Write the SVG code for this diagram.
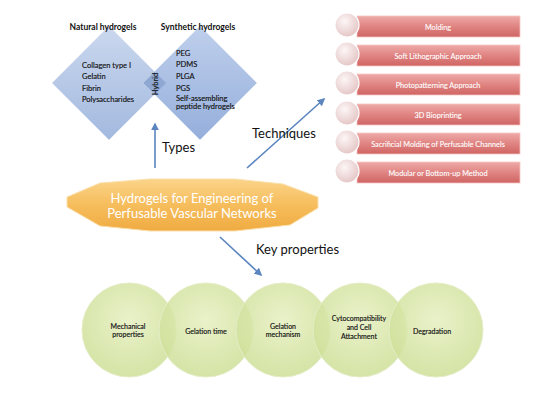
<svg xmlns="http://www.w3.org/2000/svg" width="550" height="413" viewBox="0 0 550 413">
<defs>
<linearGradient id="gBlueL" x1="0" y1="0" x2="0" y2="1"><stop offset="0" stop-color="#cbd8ee"/><stop offset="1" stop-color="#a3b9df"/></linearGradient>
<linearGradient id="gBlueR" x1="0" y1="0" x2="0" y2="1"><stop offset="0" stop-color="#bccdeb"/><stop offset="1" stop-color="#8faad9"/></linearGradient>
<linearGradient id="gOrange" x1="0" y1="0" x2="0" y2="1"><stop offset="0" stop-color="#fbd48a"/><stop offset="0.5" stop-color="#f6bd5c"/><stop offset="1" stop-color="#f0ab42"/></linearGradient>
<linearGradient id="gRed" x1="0" y1="0" x2="0" y2="1"><stop offset="0" stop-color="#eeaaa8"/><stop offset="0.5" stop-color="#e08482"/><stop offset="1" stop-color="#cf6563"/></linearGradient>
<radialGradient id="gPink" cx="0.4" cy="0.35" r="0.7"><stop offset="0" stop-color="#fdf6f6"/><stop offset="1" stop-color="#e3c3c3"/></radialGradient>
<radialGradient id="gGreen" cx="0.5" cy="0.4" r="0.6"><stop offset="0" stop-color="#e6efc0"/><stop offset="1" stop-color="#cddf96"/></radialGradient>
<marker id="arr" viewBox="0 0 10 10" refX="8" refY="5" markerWidth="5" markerHeight="5" orient="auto-start-reverse"><path d="M0,0 L10,5 L0,10 z" fill="#5a85bf"/></marker>
</defs>
<style>
.t{font-family:Lato,"Liberation Sans",sans-serif;}
.conn{stroke:#5a85bf;stroke-width:1.6;fill:none;marker-end:url(#arr);}
.lbl{font-size:13px;fill:#111;}
.list{font-size:7.5px;fill:#111;stroke:#111;stroke-width:0.15;}
.hdr{font-size:8.5px;font-weight:bold;fill:#111;}
.bar{fill:url(#gRed);stroke:#f4c6c4;stroke-width:0.8;}
.knob{fill:url(#gPink);stroke:#ffffff;stroke-width:1.2;}
.btxt{font-size:7.3px;fill:#fff;text-anchor:middle;stroke:#fff;stroke-width:0.1;}
.circ{fill:url(#gGreen);fill-opacity:0.85;stroke:#e4edc6;stroke-width:1;}
.ctxt{font-size:7px;fill:#111;text-anchor:middle;stroke:#111;stroke-width:0.15;}
</style>
<rect width="550" height="413" fill="#ffffff"/>

<g id="types">
<polygon points="109,26 166,83 109,140 52,83" fill="url(#gBlueL)" stroke="#dfe7f5" stroke-width="1"/>
<polygon points="200,26 257,83 200,140 143,83" fill="url(#gBlueR)" stroke="#dfe7f5" stroke-width="1" fill-opacity="0.95"/>
<polygon points="154.5,71.5 166,83 154.5,94.5 143,83" fill="#8ea7d3"/>
<text class="t hdr" x="103" y="30" text-anchor="middle">Natural hydrogels</text>
<text class="t hdr" x="198" y="30" text-anchor="middle">Synthetic hydrogels</text>
<text class="t list" x="82" y="68">Collagen type I</text>
<text class="t list" x="82" y="79">Gelatin</text>
<text class="t list" x="82" y="91">Fibrin</text>
<text class="t list" x="82" y="102">Polysaccharides</text>
<text class="t list" x="176" y="56">PEG</text>
<text class="t list" x="176" y="67">PDMS</text>
<text class="t list" x="176" y="79">PLGA</text>
<text class="t list" x="176" y="91">PGS</text>
<text class="t list" x="176" y="101">Self-assembling</text>
<text class="t list" x="176" y="109">peptide hydrogels</text>
<text class="t list" x="0" y="0" text-anchor="middle" font-size="8" transform="translate(158,84) rotate(-90)">Hybrid</text>
</g>

<g id="techniques">
<rect class="bar" x="357" y="16" width="163" height="21"/>
<circle class="knob" cx="347" cy="25" r="12"/>
<text class="t btxt" x="438" y="29.5">Molding</text>
<rect class="bar" x="357" y="45" width="163" height="21"/>
<circle class="knob" cx="347" cy="54" r="12"/>
<text class="t btxt" x="438" y="58.5">Soft Lithographic Approach</text>
<rect class="bar" x="357" y="74" width="163" height="21"/>
<circle class="knob" cx="347" cy="83" r="12"/>
<text class="t btxt" x="438" y="87.5">Photopatterning Approach</text>
<rect class="bar" x="357" y="104" width="163" height="21"/>
<circle class="knob" cx="347" cy="113" r="12"/>
<text class="t btxt" x="438" y="117.5">3D Bioprinting</text>
<rect class="bar" x="357" y="133" width="163" height="21"/>
<circle class="knob" cx="347" cy="142" r="12"/>
<text class="t btxt" x="438" y="146.5">Sacrificial Molding of Perfusable Channels</text>
<rect class="bar" x="357" y="162" width="163" height="21"/>
<circle class="knob" cx="347" cy="171" r="12"/>
<text class="t btxt" x="438" y="175.5">Modular or Bottom-up Method</text>
</g>

<g id="main">
<polygon points="67,197 100,183 150,179 235,179 283,184 318,197 318,208 290,225 235,231 150,231 100,226 67,207" fill="url(#gOrange)" stroke="#fbe0ad" stroke-width="1"/>
<text class="t" x="192" y="202.5" font-size="13" fill="#ffffff" text-anchor="middle">Hydrogels for Engineering of</text>
<text class="t" x="192" y="218" font-size="13" fill="#ffffff" text-anchor="middle">Perfusable Vascular Networks</text>
</g>

<g id="properties">
<circle class="circ" cx="129" cy="330" r="47"/>
<circle class="circ" cx="206" cy="330" r="47"/>
<circle class="circ" cx="283" cy="330" r="47"/>
<circle class="circ" cx="360" cy="330" r="47"/>
<circle class="circ" cx="436" cy="330" r="47"/>
<text class="t ctxt" x="128" y="329">Mechanical</text>
<text class="t ctxt" x="128" y="337">properties</text>
<text class="t ctxt" x="206" y="333.5">Gelation time</text>
<text class="t ctxt" x="283" y="329">Gelation</text>
<text class="t ctxt" x="283" y="337">mechanism</text>
<text class="t ctxt" x="359" y="320.5">Cytocompatibility</text>
<text class="t ctxt" x="359" y="329.5">and Cell</text>
<text class="t ctxt" x="359" y="338.5">Attachment</text>
<text class="t ctxt" x="432" y="333.5">Degradation</text>
</g>

<g id="connectors">
<line class="conn" x1="155" y1="168" x2="155" y2="124"/>
<line class="conn" x1="247" y1="168" x2="324" y2="99"/>
<line class="conn" x1="220" y1="237" x2="261" y2="275"/>
<text class="t lbl" x="162" y="152">Types</text>
<text class="t lbl" x="252" y="138">Techniques</text>
<text class="t lbl" x="256" y="254">Key properties</text>
</g>
</svg>
